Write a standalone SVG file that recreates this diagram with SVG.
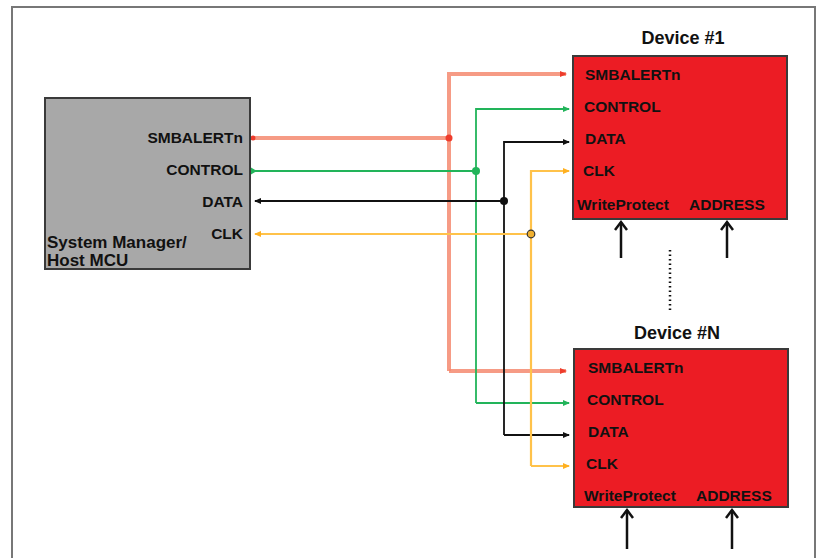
<svg xmlns="http://www.w3.org/2000/svg" width="820" height="558" viewBox="0 0 820 558">
<defs>
<style>
text{font-family:"Liberation Sans",Arial,sans-serif;font-weight:bold;fill:#111}
.lbl{font-size:15.5px}
.ttl{font-size:18px}
.host{font-size:17px}
.dev{fill:#ec1c24;stroke:#3a3a3a;stroke-width:2}
.red{stroke:#f58a70;stroke-width:4;fill:none;stroke-opacity:0.85}
.grn{stroke:#22b45a;stroke-width:1.8;fill:none}
.blk{stroke:#111;stroke-width:1.8;fill:none}
.yel{stroke:#ffc24a;stroke-width:2.2;fill:none}
.up{stroke:#111;stroke-width:2.5;fill:none}
</style>
<marker id="aR" markerWidth="8" markerHeight="8" refX="6" refY="4" orient="auto" markerUnits="userSpaceOnUse"><path d="M0,1 L7,4 L0,7 Z" fill="#ee3c2c"/></marker>
<marker id="aG" markerWidth="8" markerHeight="8" refX="6" refY="4" orient="auto" markerUnits="userSpaceOnUse"><path d="M0,1 L7,4 L0,7 Z" fill="#22b45a"/></marker>
<marker id="aK" markerWidth="8" markerHeight="8" refX="6" refY="4" orient="auto" markerUnits="userSpaceOnUse"><path d="M0,1 L7,4 L0,7 Z" fill="#111"/></marker>
<marker id="aY" markerWidth="8" markerHeight="8" refX="6" refY="4" orient="auto" markerUnits="userSpaceOnUse"><path d="M0,1 L7,4 L0,7 Z" fill="#ffb020"/></marker>
<marker id="aUp" markerWidth="14" markerHeight="14" refX="11" refY="7" orient="auto" markerUnits="userSpaceOnUse"><path d="M3,1 L11,7 L3,13" fill="none" stroke="#111" stroke-width="2.5"/></marker>
</defs>
<rect x="12" y="7" width="803" height="560" fill="#fff" stroke="#777" stroke-width="2"/>

<g id="connectors">
<!-- SMBALERTn -->
<path class="red" d="M252,138 H449"/>
<path class="red" d="M449,371 V74 H566" marker-end="url(#aR)"/>
<path class="red" d="M449,371 H566" marker-end="url(#aR)"/>
<circle cx="253" cy="138" r="2.5" fill="#ee3c2c"/>
<circle cx="449" cy="138" r="3.5" fill="#ee3c2c"/>
<!-- CONTROL -->
<path class="grn" d="M476,171 H252" />
<path d="M251,167.5 L257,171 L251,174.5 Z" fill="#22b45a"/>
<path class="grn" d="M476,403 V109 H569" marker-end="url(#aG)"/>
<path class="grn" d="M476,403 H569" marker-end="url(#aG)"/>
<circle cx="476" cy="171" r="4" fill="#22b45a"/>
<!-- DATA -->
<path class="blk" d="M504,201 H255" marker-end="url(#aK)"/>
<path class="blk" d="M504,435 V142 H569" marker-end="url(#aK)"/>
<path class="blk" d="M504,435 H569" marker-end="url(#aK)"/>
<circle cx="504" cy="201" r="4" fill="#111"/>
<!-- CLK -->
<path class="yel" d="M531,234 H255" marker-end="url(#aY)"/>
<path class="yel" d="M531,466 V171 H569" marker-end="url(#aY)"/>
<path class="yel" d="M531,466 H569" marker-end="url(#aY)"/>
<circle cx="531" cy="234" r="3.8" fill="#f0b030" stroke="#333" stroke-width="1.2"/>
<!-- inputs -->
<path class="up" d="M621,258 V222" marker-end="url(#aUp)"/>
<path class="up" d="M727,258 V222" marker-end="url(#aUp)"/>
<path class="up" d="M627,549 V510" marker-end="url(#aUp)"/>
<path class="up" d="M732,549 V510" marker-end="url(#aUp)"/>
<path d="M670,250 V312" stroke="#111" stroke-width="2.5" stroke-dasharray="1.5,3" fill="none"/>
</g>

<g id="host">
<rect x="45" y="98" width="205" height="171" fill="#a8a8a8" stroke="#3a3a3a" stroke-width="2"/>
<text class="lbl" x="243" y="143" text-anchor="end">SMBALERTn</text>
<text class="lbl" x="243" y="175" text-anchor="end">CONTROL</text>
<text class="lbl" x="243" y="207" text-anchor="end">DATA</text>
<text class="lbl" x="243" y="239" text-anchor="end">CLK</text>
<text class="host" x="47" y="248">System Manager/</text>
<text class="host" x="47" y="266">Host MCU</text>
</g>

<g id="device1">
<text class="ttl" x="683" y="44" text-anchor="middle">Device #1</text>
<rect class="dev" x="573" y="56" width="214" height="163"/>
<text class="lbl" x="585" y="80">SMBALERTn</text>
<text class="lbl" x="584" y="112">CONTROL</text>
<text class="lbl" x="585" y="144">DATA</text>
<text class="lbl" x="583" y="176">CLK</text>
<text class="lbl" x="577" y="210">WriteProtect</text>
<text class="lbl" x="689" y="210">ADDRESS</text>
</g>

<g id="deviceN">
<text class="ttl" x="677" y="339" text-anchor="middle">Device #N</text>
<rect class="dev" x="574" y="349" width="214" height="158"/>
<text class="lbl" x="588" y="373">SMBALERTn</text>
<text class="lbl" x="587" y="405">CONTROL</text>
<text class="lbl" x="588" y="437">DATA</text>
<text class="lbl" x="586" y="469">CLK</text>
<text class="lbl" x="584" y="501">WriteProtect</text>
<text class="lbl" x="696" y="501">ADDRESS</text>
</g>
</svg>
